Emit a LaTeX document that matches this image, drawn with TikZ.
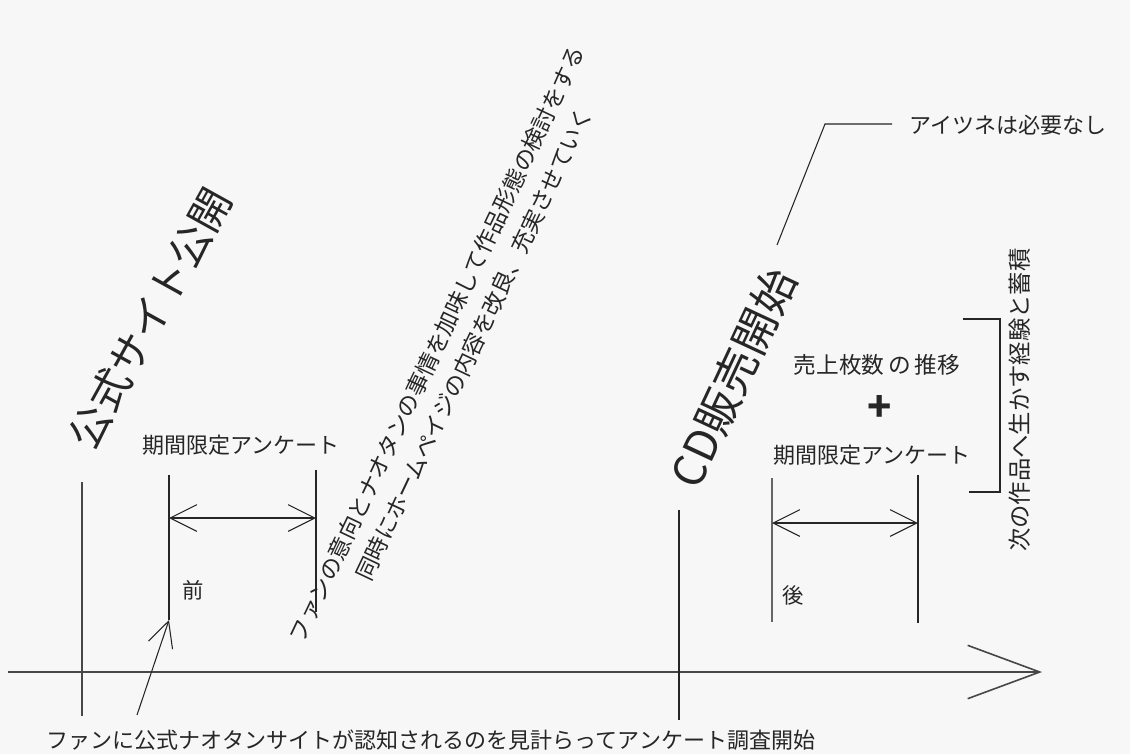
\documentclass[tikz,border=0pt]{standalone}
\usepackage{fontspec}
\setmainfont{Noto Sans CJK JP}
\usetikzlibrary{arrows.meta}
\newcommand\jfs[1]{\fontsize{#1}{#1}\selectfont}
\begin{document}
\begin{tikzpicture}[x=0.75pt,y=-0.75pt,
  lbl/.style={inner sep=0pt, text=black!85},
  thin/.style={line width=0.8pt, draw=black!85},
  axisline/.style={line width=2.2pt, draw=black!72},
  smallbarb/.style={thin, {Straight Barb[length=20pt,width=20pt]}-{Straight Barb[length=20pt,width=20pt]}},
  bigbarb/.style={axisline, -{Straight Barb[length=54pt,width=40pt,line width=1.2pt]}},
  pointer/.style={thin, -{Straight Barb[length=19pt,width=19pt]}}]
\useasboundingbox[fill=black!3] (0,0) rectangle (1130,754);

% texts
\node[lbl, rotate=61, font=\jfs{31pt}] (koshiki) at (150,318) {公式サイト公開};
\node[lbl, rotate=65, font=\jfs{33pt}] (cd) at (733,378) {CD販売開始};
\node[lbl, font=\jfs{16.5pt}] (ank1) at (241,445) {期間限定アンケート};
\node[lbl, font=\jfs{16.5pt}] (ank2) at (872,455) {期間限定アンケート};
\node[lbl, font=\jfs{16pt}] (mae) at (193,590) {前};
\node[lbl, font=\jfs{16pt}] (ato) at (793,595) {後};
\node[lbl, font=\jfs{17pt}] (uri) at (877,365) {売上枚数\hspace{3pt}の\hspace{3pt}推移};
\node[lbl, font=\jfs{30pt}\bfseries] (plus) at (880,408) {+};
\node[lbl, font=\jfs{16.5pt}] (aitsu) at (1008,125) {アイツネは必要なし};
\node[lbl, rotate=90, font=\jfs{17.5pt}] (tsugi) at (1020,400) {次の作品へ生かす経験と蓄積};
\node[lbl, rotate=64.6, font=\jfs{17pt}] (fan1) at (437,344) {ファンの意向とナオタンの事情を加味して作品形態の検討をする};
\node[lbl, rotate=64.6, font=\jfs{17pt}] (fan2) at (474,344) {同時にホームペイジの内容を改良、充実させていく};
\node[lbl, font=\jfs{16.5pt}] (bottom) at (431,740) {ファンに公式ナオタンサイトが認知されるのを見計らってアンケート調査開始};

% coordinates
\coordinate (axS) at (8,672);
\coordinate (axE) at (1042,672);
\coordinate (v0t) at (82,482);
\coordinate (v0b) at (82,716);
\coordinate (vct) at (679,510);
\coordinate (vcb) at (679,720);
\coordinate (l1t) at (169,475);
\coordinate (l1b) at (169,620);
\coordinate (l2t) at (316,470);
\coordinate (l2b) at (316,612);
\coordinate (l1a) at (169,518);
\coordinate (l2a) at (316,518);
\coordinate (r1t) at (772,478);
\coordinate (r1b) at (772,622);
\coordinate (r2t) at (918,475);
\coordinate (r2b) at (918,623);
\coordinate (r1a) at (772,523);
\coordinate (r2a) at (918,523);
\coordinate (ldA) at (777,245);
\coordinate (ldB) at (825,124);
\coordinate (ldC) at (892,124);
\coordinate (ptS) at (137,715);
\coordinate (brA) at (963,319);
\coordinate (brB) at (1000,319);
\coordinate (brC) at (1000,492);
\coordinate (brD) at (969,492);

% axis and markers
\draw[bigbarb] (axS) -- (axE);
\draw[axisline, line width=1.6pt] (v0t) -- (v0b);
\draw[thin] (vct) -- (vcb);
\draw[thin] (l1t) -- (l1b);
\draw[thin] (l2t) -- (l2b);
\draw[smallbarb] (l1a) -- (l2a);
\draw[thin, line width=1.2pt, draw=black!60] (r1t) -- (r1b);
\draw[thin] (r2t) -- (r2b);
\draw[smallbarb] (r1a) -- (r2a);
\draw[thin] (ldA) -- (ldB) -- (ldC);
\draw[pointer] (ptS) -- (l1b);
\draw[thin] (brA) -- (brB) -- (brC) -- (brD);
\end{tikzpicture}
\end{document}
